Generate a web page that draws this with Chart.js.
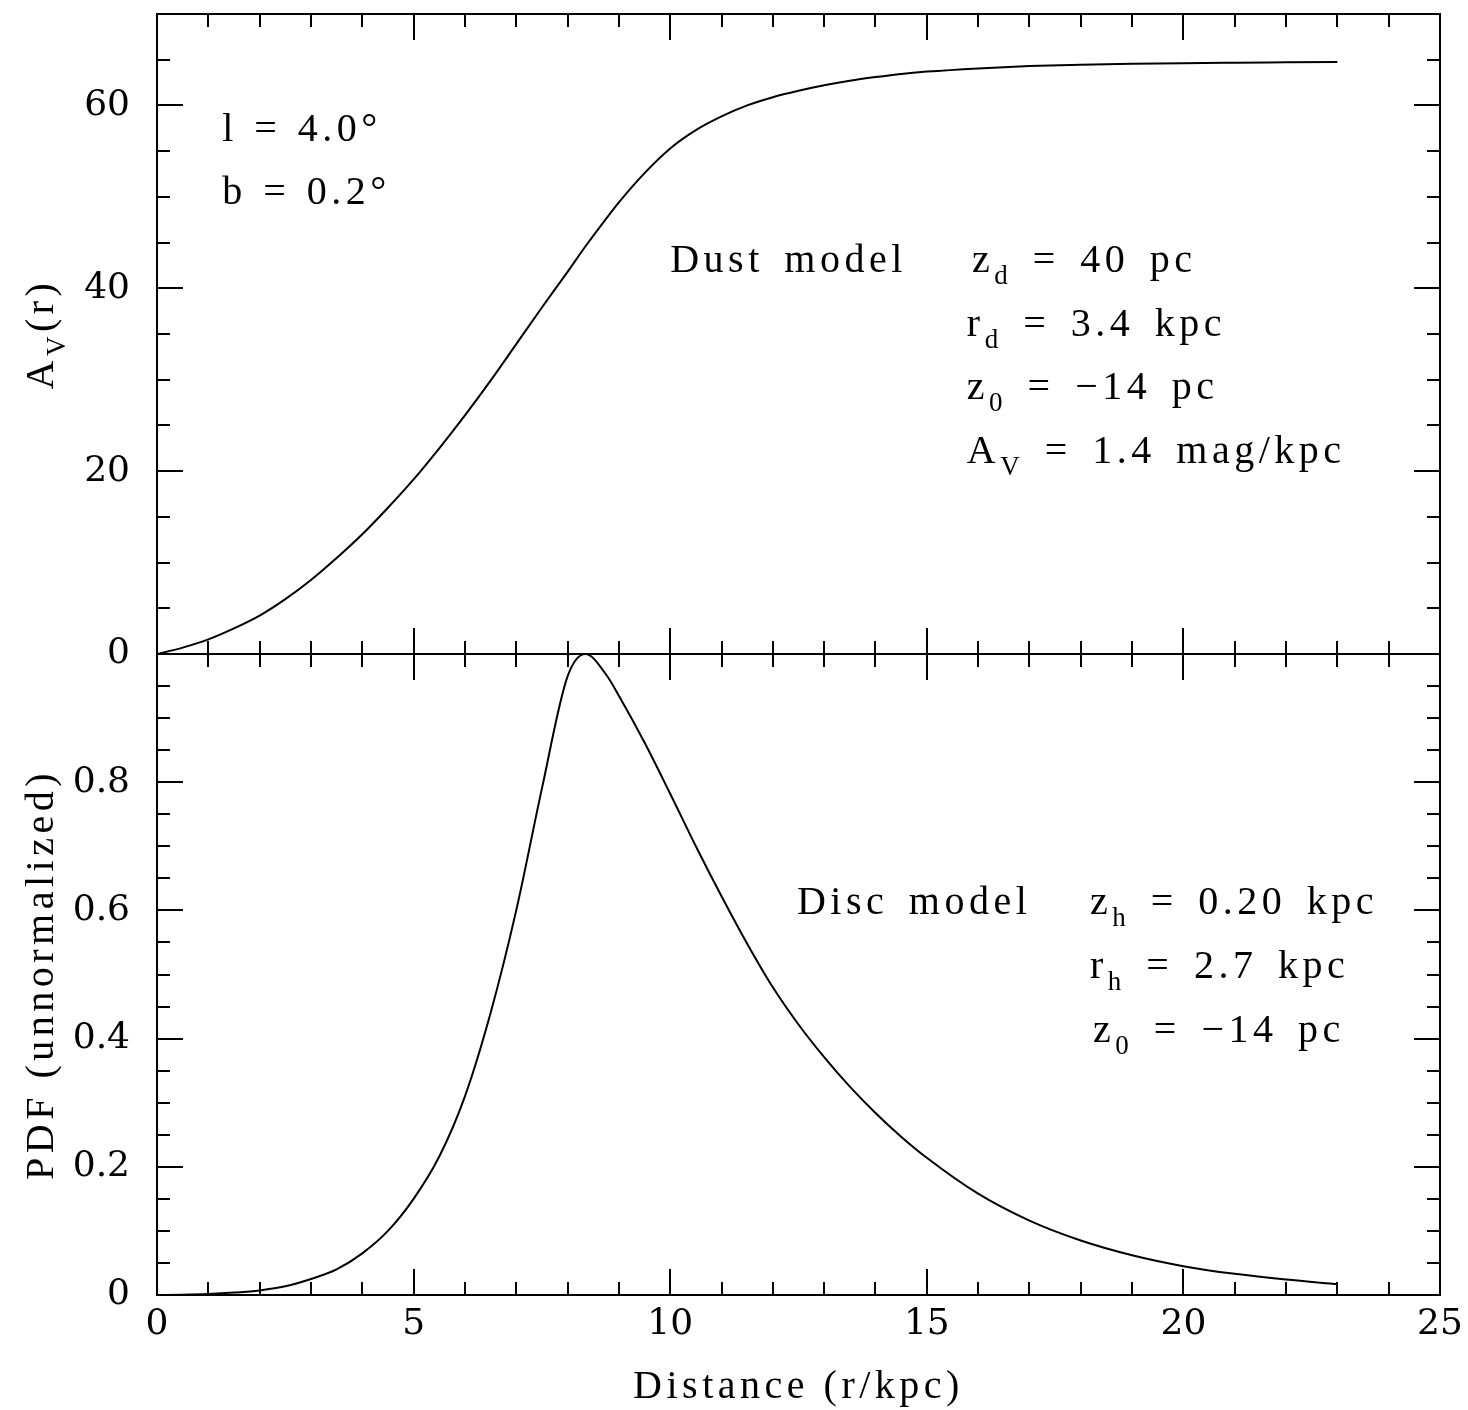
<!DOCTYPE html>
<html>
<head>
<meta charset="utf-8">
<title>Extinction and distance PDF</title>
<script src="https://cdn.jsdelivr.net/npm/chart.js@4.4.1/dist/chart.umd.min.js"></script>
<style>
  html, body { margin: 0; padding: 0; background: #fff; }
  #wrap { position: relative; width: 1468px; height: 1410px; }
  canvas { position: absolute; left: 0; }
  #avChart { top: 0; }
  #pdfChart { top: 640px; }
</style>
</head>
<body>
<div id="wrap">
  <canvas id="avChart" width="1468" height="680"></canvas>
  <canvas id="pdfChart" width="1468" height="770"></canvas>
</div>
<script>
const distance = [0, 0.5, 1, 1.5, 2, 2.5, 3, 3.5, 4, 4.5,
  5, 5.5, 6, 6.5, 7, 7.5, 8, 8.35, 8.75, 9,
  9.5, 10, 10.5, 11, 11.5, 12, 12.5, 13, 13.5, 14,
  14.5, 15, 16, 17, 18, 19, 20, 21, 22, 23];
const extinction = [0, 0.7, 1.6, 2.8, 4.2, 6.0, 8.1, 10.5, 13.1, 16.0,
  19.1, 22.5, 26.1, 29.9, 33.9, 37.9, 41.8, 44.6, 47.6, 49.4,
  52.6, 55.3, 57.3, 58.8, 60.0, 60.9, 61.6, 62.2, 62.7, 63.1,
  63.45, 63.7, 64.05, 64.3, 64.45, 64.55, 64.62, 64.67, 64.71, 64.75];
const pdf = [0, 0.0005, 0.0016, 0.0038, 0.0072, 0.0135, 0.025, 0.040, 0.065, 0.100,
  0.150, 0.216, 0.310, 0.440, 0.600, 0.790, 0.965, 1.0, 0.968, 0.935,
  0.862, 0.782, 0.700, 0.622, 0.548, 0.480, 0.422, 0.371, 0.325, 0.284,
  0.247, 0.214, 0.158, 0.116, 0.085, 0.062, 0.045, 0.033, 0.024, 0.017];

const distanceTicks = [0, 5, 10, 15, 20, 25];
const extinctionTicks = [0, 20, 40, 60];
const pdfTicks = [0, 0.2, 0.4, 0.6, 0.8];

const TICK_FONT = { family: "'DejaVu Serif', serif", size: 36 };
const TEXT_FONT = "40px 'Liberation Serif', serif";
const SUB_FONT = "27px 'Liberation Serif', serif";

function points(ys) {
  return distance.map((d, i) => ({ x: d, y: ys[i] }));
}

function setTicks(list) {
  return (scale) => {
    scale.ticks = list.map((v) => ({ value: v }));
  };
}

function isMajor(v, major) {
  const r = v / major;
  return Math.abs(r - Math.round(r)) < 1e-6;
}

// inward tick marks on all four sides plus the box
const frameTicks = {
  id: "frameTicks",
  afterDraw(chart, args, opts) {
    const { ctx, chartArea: a } = chart;
    const x = chart.scales.x;
    const y = chart.scales.y;
    ctx.save();
    ctx.strokeStyle = "#000";
    ctx.lineWidth = 2;
    ctx.beginPath();
    let n = Math.round((x.max - x.min) / opts.xMinor);
    for (let i = 0; i <= n; i++) {
      const v = x.min + i * opts.xMinor;
      const px = Math.round(x.getPixelForValue(v));
      const len = isMajor(v, opts.xMajor) ? 26 : 13;
      ctx.moveTo(px, a.bottom);
      ctx.lineTo(px, a.bottom - len);
      ctx.moveTo(px, a.top);
      ctx.lineTo(px, a.top + len);
    }
    n = Math.round((y.max - y.min) / opts.yMinor);
    for (let i = 0; i <= n; i++) {
      const v = y.min + i * opts.yMinor;
      const py = Math.round(y.getPixelForValue(v));
      const len = isMajor(v, opts.yMajor) ? 26 : 13;
      ctx.moveTo(a.left, py);
      ctx.lineTo(a.left + len, py);
      ctx.moveTo(a.right, py);
      ctx.lineTo(a.right - len, py);
    }
    ctx.stroke();
    ctx.strokeRect(a.left, a.top, a.right - a.left, a.bottom - a.top);
    ctx.restore();
  },
};

function richWidth(ctx, parts) {
  let w = 0;
  parts.forEach((p) => {
    ctx.font = p.sub ? SUB_FONT : TEXT_FONT;
    w += ctx.measureText(p.t).width;
  });
  return w;
}

function drawRich(ctx, parts, x, y) {
  parts.forEach((p) => {
    ctx.font = p.sub ? SUB_FONT : TEXT_FONT;
    ctx.fillText(p.t, x, p.sub ? y + 12 : y);
    x += ctx.measureText(p.t).width;
  });
}

// annotations and axis titles (they need subscripts)
const textLabels = {
  id: "textLabels",
  afterDraw(chart, args, opts) {
    const { ctx, chartArea: a } = chart;
    const x = chart.scales.x;
    const y = chart.scales.y;
    ctx.save();
    ctx.fillStyle = "#000";
    ctx.textAlign = "left";
    ctx.textBaseline = "alphabetic";
    ctx.letterSpacing = "4.5px";
    opts.items.forEach((item) => {
      ctx.wordSpacing = item.wide ? "6px" : "2px";
      drawRich(ctx, item.parts, x.getPixelForValue(item.x), y.getPixelForValue(item.y));
    });
    ctx.wordSpacing = "0px";
    if (opts.yTitle) {
      const w = richWidth(ctx, opts.yTitle);
      ctx.translate(a.left - 117, (a.top + a.bottom) / 2);
      ctx.rotate(-Math.PI / 2);
      drawRich(ctx, opts.yTitle, -w / 2, 13);
      ctx.setTransform(1, 0, 0, 1, 0, 0);
    }
    if (opts.xTitle) {
      const w = richWidth(ctx, opts.xTitle);
      drawRich(ctx, opts.xTitle, (a.left + a.right) / 2 - w / 2, a.bottom + 103);
    }
    ctx.restore();
  },
};

function lineDataset(ys) {
  return {
    data: points(ys),
    borderColor: "#000",
    borderWidth: 2,
    pointRadius: 0,
    fill: false,
    cubicInterpolationMode: "monotone",
  };
}

function yScale(min, max, ticks) {
  return {
    type: "linear",
    min: min,
    max: max,
    afterBuildTicks: setTicks(ticks),
    afterFit: (s) => {
      s.width = 157;
      s.paddingTop = 0;
      s.paddingBottom = 0;
    },
    grid: { display: false, drawTicks: false },
    border: { display: false },
    ticks: { color: "#000", font: TICK_FONT, padding: 27, autoSkip: false },
  };
}

new Chart(document.getElementById("avChart"), {
  type: "line",
  data: { datasets: [lineDataset(extinction)] },
  options: {
    responsive: false,
    animation: false,
    layout: { padding: { top: 14, right: 28, bottom: 26, left: 0 } },
    plugins: {
      legend: { display: false },
      tooltip: { enabled: false },
      frameTicks: { xMinor: 1, xMajor: 5, yMinor: 5, yMajor: 20 },
      textLabels: {
        yTitle: [{ t: "A" }, { t: "V", sub: true }, { t: "(r)" }],
        items: [
          { x: 1.27, y: 56.1, parts: [{ t: "l = 4.0°" }] },
          { x: 1.27, y: 49.2, parts: [{ t: "b = 0.2°" }] },
          { x: 10.0, y: 41.8, wide: true, parts: [{ t: "Dust model" }] },
          { x: 15.88, y: 41.8, wide: true, parts: [{ t: "z" }, { t: "d", sub: true }, { t: " = 40 pc" }] },
          { x: 15.78, y: 34.8, wide: true, parts: [{ t: "r" }, { t: "d", sub: true }, { t: " = 3.4 kpc" }] },
          { x: 15.78, y: 27.9, wide: true, parts: [{ t: "z" }, { t: "0", sub: true }, { t: " = −14 pc" }] },
          { x: 15.78, y: 20.9, wide: true, parts: [{ t: "A" }, { t: "V", sub: true }, { t: " = 1.4 mag/kpc" }] },
        ],
      },
    },
    scales: {
      x: { type: "linear", min: 0, max: 25, display: false },
      y: yScale(0, 70, extinctionTicks),
    },
  },
  plugins: [frameTicks, textLabels],
});

new Chart(document.getElementById("pdfChart"), {
  type: "line",
  data: { datasets: [lineDataset(pdf)] },
  options: {
    responsive: false,
    animation: false,
    layout: { padding: { top: 14, right: 28, bottom: 0, left: 0 } },
    plugins: {
      legend: { display: false },
      tooltip: { enabled: false },
      frameTicks: { xMinor: 1, xMajor: 5, yMinor: 0.05, yMajor: 0.2 },
      textLabels: {
        yTitle: [{ t: "PDF (unnormalized)" }],
        xTitle: [{ t: "Distance (r/kpc)" }],
        items: [
          { x: 12.47, y: 0.595, wide: true, parts: [{ t: "Disc model" }] },
          { x: 18.18, y: 0.595, wide: true, parts: [{ t: "z" }, { t: "h", sub: true }, { t: " = 0.20 kpc" }] },
          { x: 18.18, y: 0.495, wide: true, parts: [{ t: "r" }, { t: "h", sub: true }, { t: " = 2.7 kpc" }] },
          { x: 18.24, y: 0.394, wide: true, parts: [{ t: "z" }, { t: "0", sub: true }, { t: " = −14 pc" }] },
        ],
      },
    },
    scales: {
      x: {
        type: "linear",
        min: 0,
        max: 25,
        afterBuildTicks: setTicks(distanceTicks),
        afterFit: (s) => {
          s.height = 115;
          s.paddingLeft = 0;
          s.paddingRight = 0;
        },
        grid: { display: false, drawTicks: false },
        border: { display: false },
        ticks: { color: "#000", font: TICK_FONT, padding: 8, maxRotation: 0, autoSkip: false },
      },
      y: yScale(0, 1, pdfTicks),
    },
  },
  plugins: [frameTicks, textLabels],
});
</script>
</body>
</html>
